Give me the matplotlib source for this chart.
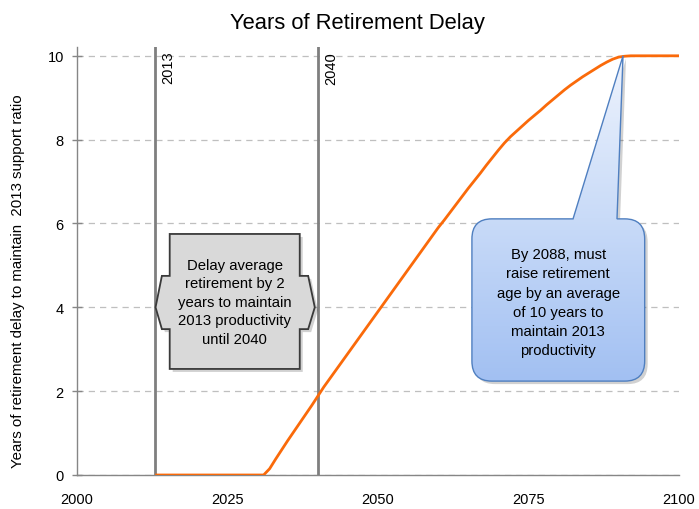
import numpy as np
import matplotlib
matplotlib.use("Agg")
import matplotlib.pyplot as plt
from matplotlib.path import Path
from matplotlib.patches import PathPatch
from matplotlib.colors import LinearSegmentedColormap
import matplotlib.transforms as mtransforms

plt.rcParams['font.family'] = ['Liberation Sans', 'DejaVu Sans']

# ---- data ----
years = list(range(2013, 2101))
delay = ([0.0] * 19 +  # 2013-2031
         [0.15, 0.38, 0.6, 0.82, 1.03, 1.24, 1.45, 1.66, 1.88,          # 2032-2040
          2.1, 2.3, 2.5, 2.7, 2.9, 3.1, 3.3, 3.5, 3.7, 3.9,             # 2041-2050
          4.1, 4.3, 4.5, 4.7, 4.9, 5.1, 5.3, 5.5, 5.7, 5.9,             # 2051-2060
          6.08, 6.27, 6.46, 6.65, 6.84, 7.02, 7.2, 7.39, 7.57, 7.75,    # 2061-2070
          7.92, 8.07, 8.2, 8.33, 8.46, 8.58, 8.7, 8.83, 8.95, 9.07,     # 2071-2080
          9.19, 9.3, 9.4, 9.5, 9.59, 9.68, 9.77, 9.85, 9.92, 9.97,      # 2081-2090
          9.99, 10.0, 10.0, 10.0, 10.0, 10.0, 10.0, 10.0, 10.0, 10.0])  # 2091-2100
marker_years = [2013, 2040]
x_ticks = [2000, 2025, 2050, 2075, 2100]
y_ticks = [0, 2, 4, 6, 8, 10]
title = "Years of Retirement Delay"
ylabel = "Years of retirement delay to maintain  2013 support ratio"
box1_text = "Delay average\nretirement by 2\nyears to maintain\n2013 productivity\nuntil 2040"
box2_text = "By 2088, must\nraise retirement\nage by an average\nof 10 years to\nmaintain 2013\nproductivity"

W, H = 699, 510
fig = plt.figure(figsize=(W / 100, H / 100), dpi=100)
ax = fig.add_axes([77 / W, 34 / H, 602 / W, 428 / H])
ax.set_xlim(2000, 2100)
ax.set_ylim(0, 10.21)

axis_gray = '#868686'
for s in ['top', 'right']:
    ax.spines[s].set_visible(False)
for s in ['left', 'bottom']:
    ax.spines[s].set_color(axis_gray)
    ax.spines[s].set_linewidth(1.0)

ax.set_xticks(x_ticks)
ax.set_yticks(y_ticks)
ax.tick_params(axis='x', length=0, pad=12, labelsize=10.5, colors='#000000')
ax.tick_params(axis='y', direction='inout', length=7, width=1, color=axis_gray,
               pad=6, labelsize=10.5)
ax.grid(axis='y', linestyle=(0, (5, 4)), color='#bfbfbf', linewidth=0.9)
ax.set_axisbelow(True)

# vertical marker lines
for my in marker_years:
    ax.axvline(my, color='#7f7f7f', linewidth=2.0, zorder=3)
    ax.text(my + 1.0, 10.12, str(my), rotation=90, ha='left', va='top',
            fontsize=10.5, zorder=4)

# main line
ax.plot(years, delay, color='#fa6a0a', linewidth=2.0, zorder=5, solid_capstyle='butt')

ax.set_ylabel(ylabel, fontsize=10.8)
ax.yaxis.set_label_coords(-0.087, 0.456)

fig.text(357 / W, 1 - 23 / H, title, ha='center', va='center', fontsize=15.8)

# ---- gray double-arrow box ----
bx0, bx1, by0, by1 = 2015.4, 2037.0, 2.53, 5.75
nt, nb, ym = 4.75, 3.48, 4.0
xl, xt = 2014.1, 2013.05
xr, xrt = 2038.4, 2039.5
verts = [(bx0, by1), (bx1, by1), (bx1, nt), (xr, nt), (xrt, ym), (xr, nb), (bx1, nb),
         (bx1, by0), (bx0, by0), (bx0, nb), (xl, nb), (xt, ym), (xl, nt), (bx0, nt),
         (bx0, by1)]
codes = [Path.MOVETO] + [Path.LINETO] * (len(verts) - 2) + [Path.CLOSEPOLY]
gpath = Path(verts, codes)
shadow_tr = mtransforms.offset_copy(ax.transData, fig=fig, x=3, y=-3, units='dots')
ax.add_patch(PathPatch(gpath, transform=shadow_tr, facecolor='#000000', alpha=0.18,
                       edgecolor='none', zorder=6))
ax.add_patch(PathPatch(gpath, facecolor='#d9d9d9', edgecolor='#3a3a3a', linewidth=1.3,
                       zorder=7))
ax.text((bx0 + bx1) / 2, 4.13, box1_text, ha='center', va='center', fontsize=10.7,
        linespacing=1.42, zorder=8)

# ---- blue rounded callout ----
cx0, cx1, cy0, cy1 = 2065.6, 2094.3, 2.24, 6.11
rx, ry = 3.3, 0.48
px0, px1, tipx, tipy = 2082.4, 2089.7, 2090.7, 10.0
cverts = [(px0, cy1), (tipx, tipy), (px1, cy1),
          (cx1 - rx, cy1), (cx1, cy1), (cx1, cy1 - ry),
          (cx1, cy0 + ry), (cx1, cy0), (cx1 - rx, cy0),
          (cx0 + rx, cy0), (cx0, cy0), (cx0, cy0 + ry),
          (cx0, cy1 - ry), (cx0, cy1), (cx0 + rx, cy1),
          (px0, cy1)]
ccodes = [Path.MOVETO, Path.LINETO, Path.LINETO,
          Path.LINETO, Path.CURVE3, Path.CURVE3,
          Path.LINETO, Path.CURVE3, Path.CURVE3,
          Path.LINETO, Path.CURVE3, Path.CURVE3,
          Path.LINETO, Path.CURVE3, Path.CURVE3,
          Path.CLOSEPOLY]
cpath = Path(cverts, ccodes)
ax.add_patch(PathPatch(cpath, transform=shadow_tr, facecolor='#000000', alpha=0.18,
                       edgecolor='none', zorder=6))
grad_patch = PathPatch(cpath, facecolor='none', edgecolor='none', zorder=7)
ax.add_patch(grad_patch)
cmap = LinearSegmentedColormap.from_list('blu', ['#a2c0f2', '#c9dbf8', '#eef3fd'])
grad = np.linspace(0, 1, 256).reshape(-1, 1)
im = ax.imshow(grad, extent=[cx0, cx1, cy0, tipy], origin='lower', aspect='auto',
               cmap=cmap, zorder=7, interpolation='bilinear')
im.set_clip_path(grad_patch)
ax.add_patch(PathPatch(cpath, facecolor='none', edgecolor='#4f7fc0', linewidth=1.0,
                       zorder=7.5))
ax.text((cx0 + cx1) / 2, 4.12, box2_text, ha='center', va='center', fontsize=10.7,
        linespacing=1.48, zorder=8)

ax.set_xlim(2000, 2100)
ax.set_ylim(0, 10.21)

fig.savefig('out.png', dpi=100)
